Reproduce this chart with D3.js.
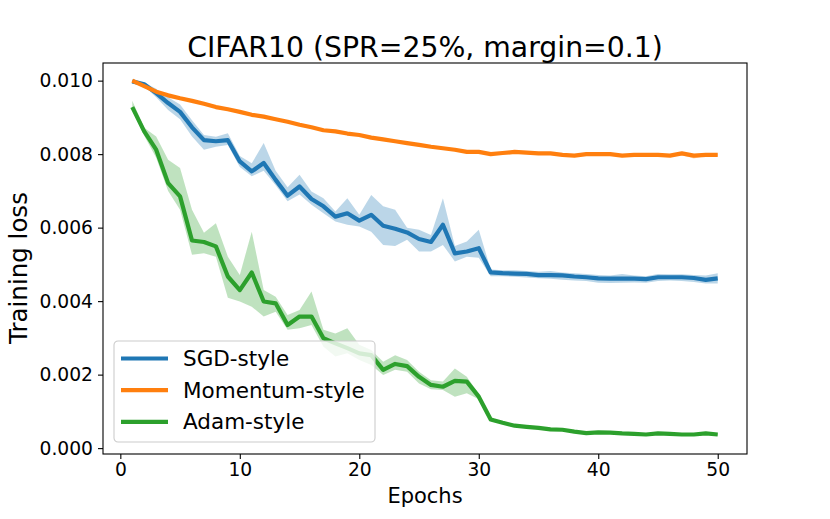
<!DOCTYPE html>
<html>
<head>
<meta charset="utf-8">
<script src="https://cdn.jsdelivr.net/npm/d3@7"></script>
<style>
  html, body { margin: 0; padding: 0; background: #fff; }
  svg { display: block; font-family: "DejaVu Sans", sans-serif; }
</style>
</head>
<body>
<div id="chart"></div>
<script>
// ---- data ----
var epochs = d3.range(1, 51);
var seriesNames = ['SGD-style', 'Momentum-style', 'Adam-style'];
var xTicks = [0, 10, 20, 30, 40, 50];
var yTicks = [0.000, 0.002, 0.004, 0.006, 0.008, 0.010];

var sgdMean = [0.00998, 0.00990, 0.00966, 0.00939, 0.00915, 0.00873, 0.00838, 0.00835, 0.00838, 0.00780,
  0.00753, 0.00776, 0.00730, 0.00687, 0.00712, 0.00678, 0.00658, 0.00630, 0.00639, 0.00619,
  0.00635, 0.00605, 0.00597, 0.00587, 0.00569, 0.00561, 0.00608, 0.00530, 0.00535, 0.00544,
  0.00478, 0.00476, 0.00475, 0.00474, 0.00471, 0.00471, 0.00470, 0.00467, 0.00465, 0.00462,
  0.00461, 0.00461, 0.00461, 0.00460, 0.00465, 0.00465, 0.00465, 0.00463, 0.00458, 0.00462];
var sgdHi = [0.01000, 0.00995, 0.00978, 0.00955, 0.00935, 0.00892, 0.00852, 0.00847, 0.00857, 0.00795,
  0.00775, 0.00830, 0.00755, 0.00710, 0.00744, 0.00698, 0.00680, 0.00644, 0.00680, 0.00635,
  0.00689, 0.00658, 0.00649, 0.00600, 0.00594, 0.00580, 0.00680, 0.00550, 0.00562, 0.00594,
  0.00486, 0.00484, 0.00484, 0.00482, 0.00480, 0.00482, 0.00478, 0.00476, 0.00474, 0.00471,
  0.00470, 0.00474, 0.00470, 0.00468, 0.00474, 0.00473, 0.00473, 0.00471, 0.00470, 0.00476];
var sgdLo = [0.00996, 0.00985, 0.00955, 0.00920, 0.00895, 0.00848, 0.00812, 0.00820, 0.00825, 0.00765,
  0.00740, 0.00755, 0.00715, 0.00672, 0.00690, 0.00662, 0.00639, 0.00617, 0.00608, 0.00603,
  0.00589, 0.00553, 0.00550, 0.00567, 0.00535, 0.00535, 0.00553, 0.00508, 0.00521, 0.00518,
  0.00468, 0.00468, 0.00466, 0.00464, 0.00462, 0.00461, 0.00458, 0.00456, 0.00455, 0.00450,
  0.00449, 0.00450, 0.00451, 0.00450, 0.00455, 0.00456, 0.00455, 0.00452, 0.00448, 0.00448];

var momMean = [0.01000, 0.00985, 0.00970, 0.00960, 0.00952, 0.00945, 0.00937, 0.00928, 0.00922, 0.00915,
  0.00907, 0.00902, 0.00895, 0.00888, 0.00880, 0.00873, 0.00865, 0.00862, 0.00856, 0.00852,
  0.00845, 0.00840, 0.00835, 0.00830, 0.00825, 0.00820, 0.00816, 0.00812, 0.00806, 0.00806,
  0.00800, 0.00803, 0.00806, 0.00804, 0.00802, 0.00802, 0.00798, 0.00796, 0.00800, 0.00800,
  0.00800, 0.00796, 0.00798, 0.00798, 0.00798, 0.00796, 0.00802, 0.00796, 0.00798, 0.00798];
var momHi = [0.01002, 0.00988, 0.00973, 0.00963, 0.00955, 0.00948, 0.00940, 0.00931, 0.00925, 0.00918,
  0.00910, 0.00905, 0.00898, 0.00891, 0.00883, 0.00876, 0.00868, 0.00865, 0.00859, 0.00855,
  0.00848, 0.00843, 0.00838, 0.00833, 0.00828, 0.00823, 0.00819, 0.00815, 0.00809, 0.00809,
  0.00803, 0.00806, 0.00809, 0.00807, 0.00805, 0.00805, 0.00801, 0.00799, 0.00803, 0.00803,
  0.00803, 0.00799, 0.00801, 0.00801, 0.00801, 0.00799, 0.00805, 0.00800, 0.00801, 0.00801];
var momLo = [0.00998, 0.00982, 0.00967, 0.00957, 0.00949, 0.00942, 0.00934, 0.00925, 0.00919, 0.00912,
  0.00904, 0.00899, 0.00892, 0.00885, 0.00877, 0.00870, 0.00862, 0.00859, 0.00853, 0.00849,
  0.00842, 0.00837, 0.00832, 0.00827, 0.00822, 0.00817, 0.00813, 0.00809, 0.00803, 0.00803,
  0.00797, 0.00800, 0.00803, 0.00801, 0.00799, 0.00799, 0.00795, 0.00793, 0.00797, 0.00797,
  0.00797, 0.00793, 0.00795, 0.00795, 0.00795, 0.00793, 0.00797, 0.00788, 0.00795, 0.00795];

var adamMean = [0.00928, 0.00862, 0.00812, 0.00721, 0.00685, 0.00565, 0.00561, 0.00549, 0.00467, 0.00430,
  0.00478, 0.00399, 0.00394, 0.00335, 0.00358, 0.00358, 0.00299, 0.00285, 0.00272, 0.00258,
  0.00253, 0.00213, 0.00229, 0.00223, 0.00194, 0.00172, 0.00167, 0.00183, 0.00181, 0.00140,
  0.00078, 0.00069, 0.00061, 0.00058, 0.00055, 0.00051, 0.00050, 0.00045, 0.00041, 0.00043,
  0.00042, 0.00040, 0.00039, 0.00037, 0.00040, 0.00039, 0.00037, 0.00037, 0.00040, 0.00037];
var adamHi = [0.00945, 0.00872, 0.00848, 0.00785, 0.00762, 0.00649, 0.00586, 0.00612, 0.00521, 0.00471,
  0.00589, 0.00430, 0.00412, 0.00362, 0.00376, 0.00426, 0.00322, 0.00312, 0.00326, 0.00281,
  0.00267, 0.00235, 0.00253, 0.00240, 0.00208, 0.00185, 0.00181, 0.00217, 0.00194, 0.00147,
  0.00082, 0.00072, 0.00064, 0.00061, 0.00058, 0.00054, 0.00053, 0.00048, 0.00044, 0.00046,
  0.00045, 0.00043, 0.00042, 0.00040, 0.00043, 0.00042, 0.00040, 0.00040, 0.00043, 0.00040];
var adamLo = [0.00920, 0.00850, 0.00790, 0.00700, 0.00649, 0.00526, 0.00530, 0.00521, 0.00409, 0.00399,
  0.00385, 0.00358, 0.00371, 0.00322, 0.00326, 0.00335, 0.00276, 0.00249, 0.00258, 0.00240,
  0.00226, 0.00199, 0.00213, 0.00208, 0.00176, 0.00160, 0.00158, 0.00140, 0.00149, 0.00133,
  0.00074, 0.00066, 0.00058, 0.00055, 0.00052, 0.00048, 0.00047, 0.00042, 0.00038, 0.00040,
  0.00039, 0.00037, 0.00036, 0.00034, 0.00037, 0.00036, 0.00034, 0.00034, 0.00037, 0.00034];

var colors = ['#1f77b4', '#ff7f0e', '#2ca02c'];

// ---- layout ----
var W = 830, H = 519;
var L = 103, R = 747, T = 63, B = 454;

var svg = d3.select('#chart').append('svg')
  .attr('width', W).attr('height', H);

var x = d3.scaleLinear().domain([-1.45, 52.45]).range([L, R]);
var y = d3.scaleLinear().domain([-0.00016, 0.01048]).range([B, T]);

var series = [
  { name: seriesNames[0], mean: sgdMean, lo: sgdLo, hi: sgdHi, color: colors[0] },
  { name: seriesNames[1], mean: momMean, lo: momLo, hi: momHi, color: colors[1] },
  { name: seriesNames[2], mean: adamMean, lo: adamLo, hi: adamHi, color: colors[2] }
];

var plot = svg.append('g');

// shaded bands (drawn below all lines, like fill_between)
var area = d3.area()
  .x(function(d) { return x(d.e); })
  .y0(function(d) { return y(d.lo); })
  .y1(function(d) { return y(d.hi); });

series.forEach(function(s) {
  var pts = epochs.map(function(e, i) { return { e: e, lo: s.lo[i], hi: s.hi[i] }; });
  plot.append('path')
    .attr('d', area(pts))
    .attr('fill', s.color)
    .attr('fill-opacity', 0.3);
});

var line = d3.line()
  .x(function(d) { return x(d.e); })
  .y(function(d) { return y(d.v); });

series.forEach(function(s) {
  var pts = epochs.map(function(e, i) { return { e: e, v: s.mean[i] }; });
  plot.append('path')
    .attr('d', line(pts))
    .attr('fill', 'none')
    .attr('stroke', s.color)
    .attr('stroke-width', 4.2)
    .attr('stroke-linejoin', 'round')
    .attr('stroke-linecap', 'butt');
});

// axes
var xAxis = svg.append('g')
  .attr('transform', 'translate(0,' + B + ')')
  .call(d3.axisBottom(x).tickValues(xTicks).tickSize(5).tickPadding(4).tickFormat(d3.format('d')));
var yAxis = svg.append('g')
  .attr('transform', 'translate(' + L + ',0)')
  .call(d3.axisLeft(y).tickValues(yTicks).tickSize(5).tickPadding(5).tickFormat(d3.format('.3f')));

[xAxis, yAxis].forEach(function(ax) {
  ax.select('.domain').remove();
  ax.selectAll('.tick line').attr('stroke', '#000').attr('stroke-width', 1.1);
  ax.selectAll('.tick text')
    .attr('fill', '#000')
    .attr('font-size', 18.7)
    .attr('font-family', '"DejaVu Sans", sans-serif');
});

// frame
svg.append('rect')
  .attr('x', L).attr('y', T)
  .attr('width', R - L).attr('height', B - T)
  .attr('fill', 'none')
  .attr('stroke', '#000')
  .attr('stroke-width', 1.1);

// labels
svg.append('text')
  .attr('x', (L + R) / 2).attr('y', 57)
  .attr('text-anchor', 'middle')
  .attr('font-size', 28.3)
  .attr('fill', '#000')
  .text('CIFAR10 (SPR=25%, margin=0.1)');

svg.append('text')
  .attr('x', (L + R) / 2).attr('y', 503)
  .attr('text-anchor', 'middle')
  .attr('font-size', 21)
  .attr('fill', '#000')
  .text('Epochs');

svg.append('text')
  .attr('transform', 'translate(27,268) rotate(-90)')
  .attr('text-anchor', 'middle')
  .attr('font-size', 24.5)
  .attr('fill', '#000')
  .text('Training loss');

// legend
var lg = svg.append('g').attr('transform', 'translate(114,341)');
lg.append('rect')
  .attr('width', 261).attr('height', 101)
  .attr('rx', 4).attr('ry', 4)
  .attr('fill', '#fff').attr('fill-opacity', 0.8)
  .attr('stroke', '#cccccc').attr('stroke-width', 1.1);

series.forEach(function(s, i) {
  var cy = 17.5 + i * 31.7;
  lg.append('line')
    .attr('x1', 7).attr('x2', 54)
    .attr('y1', cy).attr('y2', cy)
    .attr('stroke', s.color).attr('stroke-width', 4.2);
  lg.append('text')
    .attr('x', 69).attr('y', cy + 7.5)
    .attr('font-size', 21.5)
    .attr('fill', '#000')
    .text(s.name);
});
</script>
</body>
</html>
